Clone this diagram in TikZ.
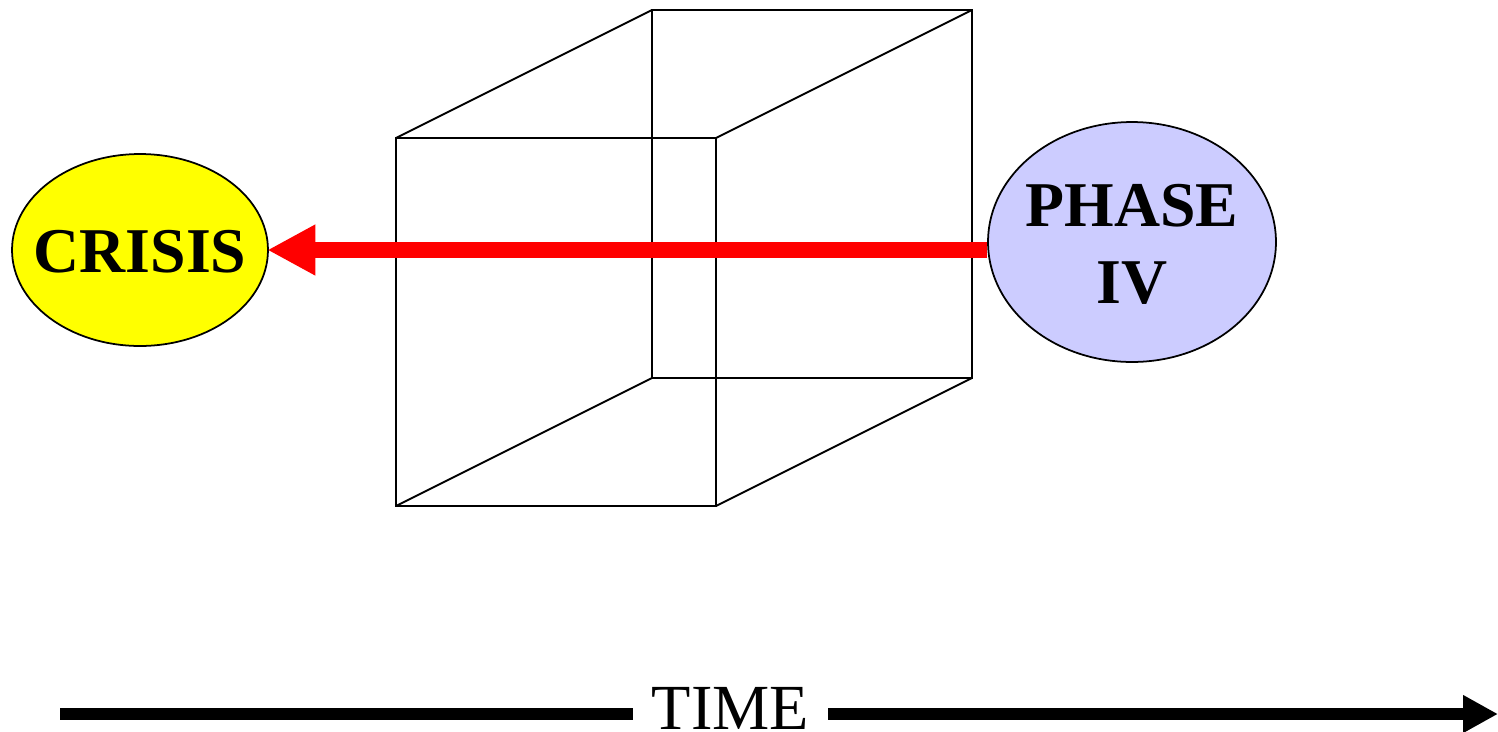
\documentclass[tikz,border=0pt]{standalone}
\usepackage{fontspec}
\setmainfont{Liberation Serif}
\usetikzlibrary{arrows.meta, shapes.geometric}
\definecolor{phaseblue}{RGB}{204, 204, 255}
\definecolor{crisisyellow}{RGB}{255, 255, 0}
\definecolor{arrowred}{RGB}{255, 0, 0}
\newcommand{\ovaltext}[2]{\raisebox{#1}[\height][\depth]{\makebox[0pt]{#2}}}
\begin{document}
\begin{tikzpicture}[
  x=0.02cm, y=-0.02cm,
  oval/.style={ellipse, draw=black, line width=1pt, inner sep=0pt, align=center, font=\fontsize{36.3}{43.8}\selectfont\bfseries},
  edge/.style={black, line width=1.1pt},
  redarr/.style={-{Triangle[length=0.96cm, width=0.95cm]}, arrowred, line width=0.32cm, shorten >=-0.03cm},
  timearr/.style={-{Triangle[length=0.7cm, width=0.71cm]}, black, line width=0.24cm}
]
\useasboundingbox (0,0) rectangle (1498,731);

% front and back faces
\coordinate (fa) at (396,138);
\coordinate (fb) at (716,138);
\coordinate (fc) at (716,506);
\coordinate (fd) at (396,506);
\coordinate (ba) at (652,10);
\coordinate (bb) at (972,10);
\coordinate (bc) at (972,378);
\coordinate (bd) at (652,378);

\draw[edge] (fa) -- (fb) -- (fc) -- (fd) -- cycle;
\draw[edge] (ba) -- (bb) -- (bc) -- (bd) -- cycle;
\draw[edge] (fa) -- (ba);
\draw[edge] (fb) -- (bb);
\draw[edge] (fc) -- (bc);
\draw[edge] (fd) -- (bd);

\node[oval, fill=crisisyellow, minimum width=5.12cm, minimum height=3.84cm] (crisis) at (140,250) {\ovaltext{-0.04cm}{CRISIS}};
\node[oval, fill=phaseblue, minimum width=5.76cm, minimum height=4.8cm] (phase) at (1132,242) {\ovaltext{-0.05cm}{PHASE}\\\ovaltext{-0.05cm}{IV}};

\draw[redarr] (crisis.east -| phase.west) -- (crisis.east);

\node[inner sep=0pt, minimum width=3.9cm, font=\fontsize{36.6}{46}\selectfont] (time) at (730.5,708.5) {TIME};
\coordinate (tstart) at (60,714);
\coordinate (tend) at (1498,714);
\draw[black, line width=0.24cm] (tstart) -- (tstart -| time.west);
\draw[timearr] (tend -| time.east) -- (tend);
\end{tikzpicture}
\end{document}
